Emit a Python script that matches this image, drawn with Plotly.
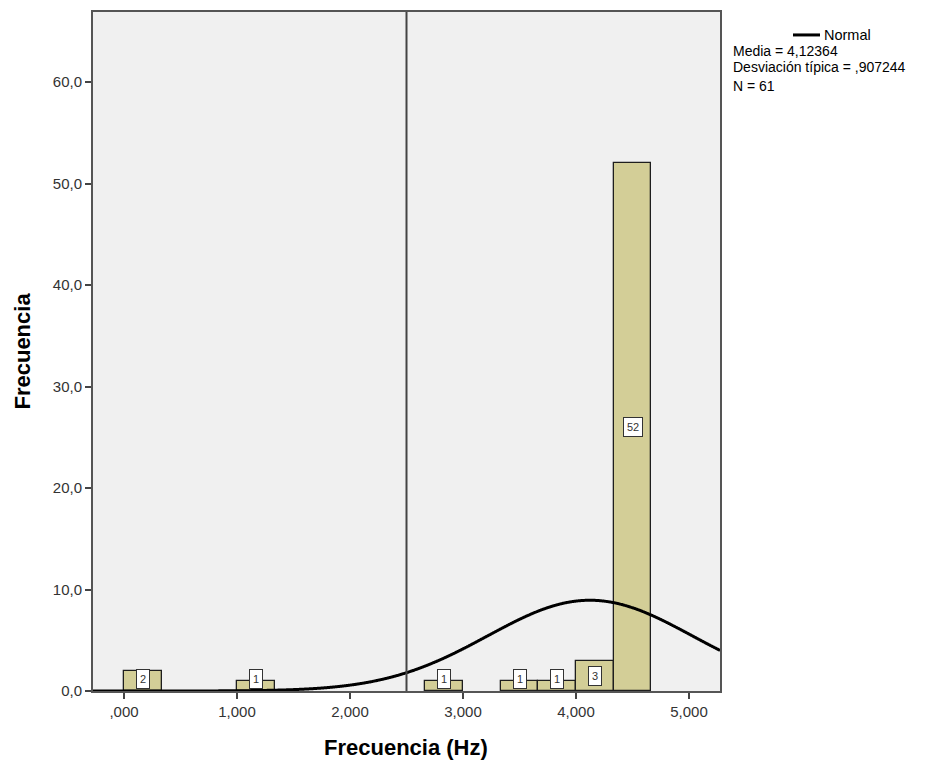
import numpy as np
import plotly.graph_objects as go

# ---- data ----
bin_width = 1.0 / 3.0
bin_lefts = [0.0, 1.0, 8.0 / 3.0, 10.0 / 3.0, 11.0 / 3.0, 4.0, 13.0 / 3.0]
counts = [2, 1, 1, 1, 1, 3, 52]

MEAN = 4.12364
SD = 0.907244
N = 61

x_tickvals = [0, 1, 2, 3, 4, 5]
x_ticktext = [",000", "1,000", "2,000", "3,000", "4,000", "5,000"]
y_tickvals = [0, 10, 20, 30, 40, 50, 60]
y_ticktext = ["0,0", "10,0", "20,0", "30,0", "40,0", "50,0", "60,0"]

REF_LINE_X = 2.5
X_RANGE = [-0.274, 5.274]
Y_RANGE = [0, 66.9]

FONT = "Liberation Sans, Arial, sans-serif"

centers = [l + bin_width / 2 for l in bin_lefts]

fig = go.Figure()
fig.add_trace(go.Bar(
    x=centers, y=counts, width=bin_width,
    marker=dict(color="#D3CE97", line=dict(color="#1e1e1e", width=1.3)),
    hoverinfo="x+y", showlegend=False,
))

# fitted normal curve (scaled to counts per bin)
xs = np.linspace(X_RANGE[0], X_RANGE[1], 800)
ys = N * bin_width / (SD * np.sqrt(2 * np.pi)) * np.exp(-0.5 * ((xs - MEAN) / SD) ** 2)
fig.add_trace(go.Scatter(
    x=xs, y=ys, mode="lines", line=dict(color="black", width=3, shape="spline"),
    name="Normal", showlegend=False,
))

# reference line
fig.add_shape(type="line", xref="x", yref="paper", x0=REF_LINE_X, x1=REF_LINE_X,
              y0=0, y1=1, line=dict(color="#444444", width=2))

# count labels
for c, h in zip(centers, counts):
    fig.add_annotation(
        x=c, y=max(h / 2, 1.2), xref="x", yref="y", text=str(h), showarrow=False,
        font=dict(family=FONT, size=11, color="#333333"),
        bgcolor="white", bordercolor="#333333", borderwidth=1, borderpad=3,
    )

# legend-like text block
fig.add_shape(type="line", xref="paper", yref="paper", x0=1.1164, x1=1.1595,
              y0=0.9662, y1=0.9662, line=dict(color="black", width=3))
fig.add_annotation(xref="paper", yref="paper", x=1.1627, y=0.9662, text="Normal",
                   showarrow=False, xanchor="left", yanchor="middle",
                   font=dict(family=FONT, size=14.5, color="black"))
legend_lines = ["Media = 4,12364", "Desviación típica = ,907244", "N = 61"]
legend_y = [0.9420, 0.9192, 0.8913]
for t, yy in zip(legend_lines, legend_y):
    fig.add_annotation(xref="paper", yref="paper", x=1.0175, y=yy, text=t,
                       showarrow=False, xanchor="left", yanchor="middle",
                       font=dict(family=FONT, size=14, color="black"))

# axis titles
fig.add_annotation(xref="paper", yref="paper", x=0.4992, y=-0.0837, text="<b>Frecuencia (Hz)</b>",
                   showarrow=False, xanchor="center", yanchor="middle",
                   font=dict(family=FONT, size=22, color="black"))
fig.add_annotation(xref="paper", yref="paper", x=-0.1132, y=0.5, text="<b>Frecuencia</b>",
                   showarrow=False, xanchor="center", yanchor="middle", textangle=-90,
                   font=dict(family=FONT, size=22, color="black"))

fig.update_layout(
    width=942, height=769,
    margin=dict(l=93, r=222, t=10, b=78),
    paper_bgcolor="white", plot_bgcolor="#F0F0F0",
    bargap=0, showlegend=False,
    font=dict(family=FONT, size=15, color="#333333"),
)
fig.update_xaxes(
    range=X_RANGE, tickvals=x_tickvals, ticktext=x_ticktext,
    ticks="outside", ticklen=6, tickwidth=1.5, tickcolor="#444444",
    showline=True, linecolor="#555555", linewidth=2, mirror=True,
    showgrid=False, zeroline=False,
    tickfont=dict(family=FONT, size=15, color="#333333"),
)
fig.update_yaxes(
    range=Y_RANGE, tickvals=y_tickvals, ticktext=y_ticktext,
    ticks="outside", ticklen=6, tickwidth=1.5, tickcolor="#444444",
    showline=True, linecolor="#555555", linewidth=2, mirror=True,
    showgrid=False, zeroline=False,
    tickfont=dict(family=FONT, size=15, color="#333333"),
)

fig.write_html("out.html")
